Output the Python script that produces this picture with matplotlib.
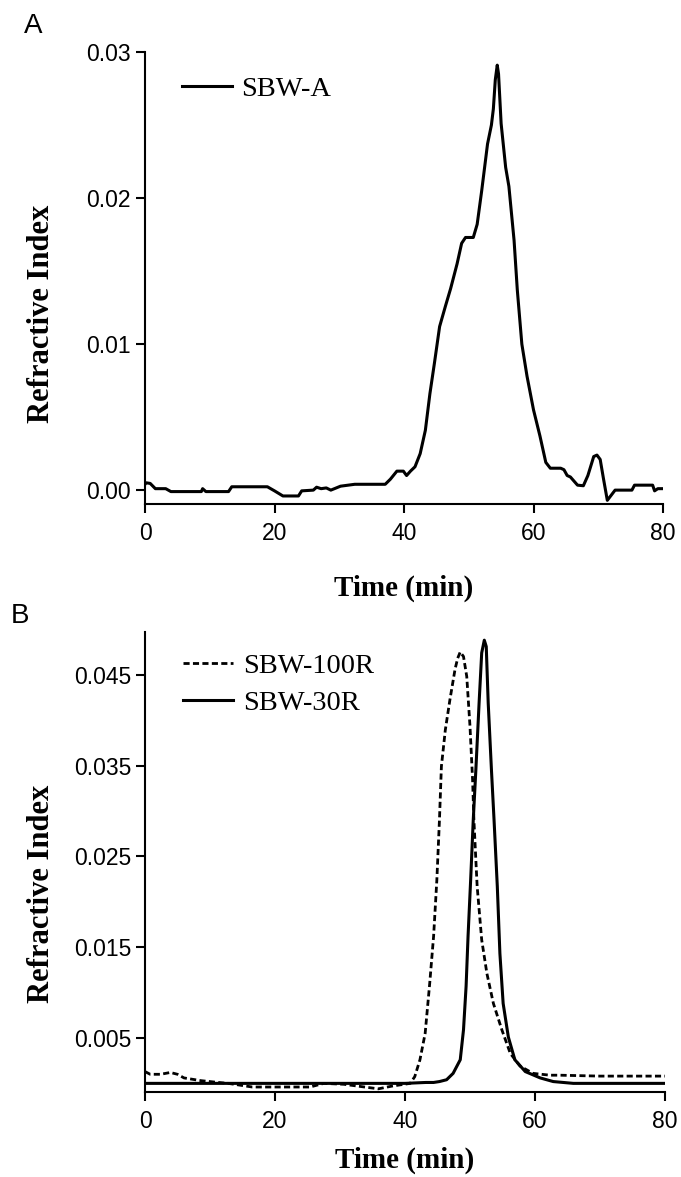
import matplotlib
matplotlib.use("Agg")
import matplotlib.pyplot as plt
import numpy as np

# ---------------- Data ----------------
# Panel A: SBW-A
a_time = [0.0, 0.2, 0.8, 1.6, 3.2, 4.0, 8.7, 8.9, 9.4, 12.9, 13.4, 18.9, 20.0, 21.3, 23.7,
          24.2, 26.0, 26.5, 27.2, 28.0, 28.7, 30.2, 32.4, 37.1, 37.9, 38.9, 39.9, 40.4,
          41.0, 41.7, 42.5, 43.3, 44.0, 44.7, 45.5, 46.4, 47.2, 48.2, 48.9, 49.5, 50.7,
          51.3, 52.0, 52.9, 53.5, 53.8, 54.1, 54.4, 54.6, 55.0, 55.7, 56.2, 57.0, 57.5,
          58.2, 59.0, 60.0, 61.0, 61.9, 62.6, 64.2, 64.7, 65.2, 65.7, 66.8, 67.7, 68.4,
          69.3, 69.8, 70.3, 70.8, 71.4, 72.6, 75.2, 75.6, 78.4, 78.7, 79.2, 80.0]
a_ri = [0.0004, 0.0005, 0.00046, 0.0001, 0.0001, -0.0001, -0.0001, 0.0001, -0.0001, -0.0001,
        0.00023, 0.00023, -0.00005, -0.0004, -0.0004, -0.00005, 0.0, 0.0002, 0.0001, 0.00015,
        0.0, 0.00027, 0.0004, 0.0004, 0.00075, 0.0013, 0.0013, 0.001, 0.0013, 0.0016,
        0.0025, 0.0041, 0.0066, 0.0087, 0.0112, 0.0126, 0.0138, 0.0155, 0.0169, 0.0173,
        0.0173, 0.0182, 0.0205, 0.0237, 0.0250, 0.0261, 0.0281, 0.0291, 0.0285, 0.0251,
        0.0221, 0.0208, 0.0171, 0.0137, 0.0100, 0.0078, 0.0055, 0.0037, 0.0019, 0.0015,
        0.0015, 0.0014, 0.0010, 0.0009, 0.00034, 0.00030, 0.0010, 0.0023, 0.0024, 0.0021,
        0.0008, -0.0007, 0.0, 0.0, 0.00034, 0.00034, -0.00005, 0.0001, 0.0001]

# Panel B: SBW-100R (dashed)
b100_time = [0.0, 0.8, 2.4, 3.9, 5.0, 6.0, 8.6, 11.3, 12.8, 16.5, 25.4, 27.5, 30.6, 32.7,
             35.9, 38.0, 40.8, 41.5, 42.3, 43.1, 43.8, 44.4, 44.9, 45.3, 45.6, 46.2, 46.9,
             47.7, 48.1, 48.5, 49.0, 49.5, 50.0, 50.4, 50.6, 50.9, 51.1, 51.8, 52.6, 53.6,
             54.9, 56.2, 57.7, 59.7, 62.3, 63.8, 70.0, 80.0]
b100_ri = [0.0013, 0.001, 0.001, 0.0012, 0.001, 0.0006, 0.0003, 0.0001, 0.0, -0.0004,
           -0.0004, 0.0, -0.0001, -0.0003, -0.0006, -0.0003, 0.0000, 0.00074, 0.0026,
           0.0055, 0.0110, 0.0162, 0.0224, 0.0290, 0.0349, 0.0389, 0.0422, 0.0456, 0.0468,
           0.0475, 0.0470, 0.0448, 0.0393, 0.0334, 0.0290, 0.0246, 0.0217, 0.0158, 0.0121,
           0.0088, 0.0059, 0.0033, 0.0019, 0.0011, 0.0009, 0.0009, 0.0008, 0.0008]

# Panel B: SBW-30R (solid)
b30_time = [0.0, 40.0, 43.2, 44.4, 45.3, 46.4, 47.4, 48.5, 49.0, 49.4, 49.7, 50.1, 50.5,
            50.9, 51.4, 51.8, 52.2, 52.5, 52.8, 53.3, 53.7, 54.2, 54.6, 55.1, 55.9, 56.9,
            58.5, 60.8, 62.8, 65.9, 80.0]
b30_ri = [0.0, 0.0, 0.0001, 0.0001, 0.0002, 0.0004, 0.0011, 0.0026, 0.0059, 0.0107,
          0.0162, 0.0224, 0.0290, 0.0345, 0.0419, 0.0474, 0.0488, 0.0481, 0.0419, 0.0345,
          0.0290, 0.0217, 0.0143, 0.0088, 0.0051, 0.0026, 0.0013, 0.0006, 0.0002, 0.0,
          0.0]

x_ticks = [0, 20, 40, 60, 80]
a_yticks = [0.00, 0.01, 0.02, 0.03]
a_ytick_labels = ["0.00", "0.01", "0.02", "0.03"]
b_yticks = [0.005, 0.015, 0.025, 0.035, 0.045]
b_ytick_labels = ["0.005", "0.015", "0.025", "0.035", "0.045"]

# ---------------- Figure ----------------
W, H = 681, 1177
fig = plt.figure(figsize=(W / 100, H / 100), dpi=100)

sans = ["Liberation Sans", "DejaVu Sans"]
serif = ["Liberation Serif", "DejaVu Serif"]
TICK_FS = 16.5

def px_axes(l, r, t, b):
    return fig.add_axes([l / W, 1 - b / H, (r - l) / W, (b - t) / H])

axA = px_axes(145, 663, 52, 504)
axB = px_axes(145, 665, 632, 1092)

def style(ax):
    for s in ("top", "right"):
        ax.spines[s].set_visible(False)
    for s in ("left", "bottom"):
        ax.spines[s].set_linewidth(1.5)
    ax.tick_params(direction="out", length=6.5, width=1.5, pad=3.5)
    ax.set_xlim(0, 80)
    ax.set_xticks(x_ticks)
    ax.set_xticklabels([str(v) for v in x_ticks], family=sans, fontsize=TICK_FS)
    ax.tick_params(axis="x", pad=6.5)
    ax.set_xlabel("Time (min)", family=serif, fontweight="bold", fontsize=21)
    ax.xaxis.label.set_va("center")
    ax.set_ylabel("Refractive Index", family=serif, fontweight="bold", fontsize=22)
    ax.yaxis.label.set_va("center")

# Panel A
axA.plot(a_time, a_ri, color="black", lw=2.2, label="SBW-A")
style(axA)
axA.set_ylim(-0.00095, 0.0300)
axA.set_yticks(a_yticks)
axA.set_yticklabels(a_ytick_labels, family=sans, fontsize=TICK_FS)
axA.xaxis.set_label_coords(0.5, -0.186)
axA.yaxis.set_label_coords(-0.199, 0.42)
axA.legend(loc="center left", bbox_to_anchor=(0.071, 0.918), frameon=False,
           borderpad=0, borderaxespad=0, handlelength=1.75, handletextpad=0.35,
           prop={"family": serif, "size": 20.5})

# Panel B
axB.plot(b100_time, b100_ri, color="black", lw=2.0, ls=(0, (2.2, 1.2)), label="SBW-100R")
axB.plot(b30_time, b30_ri, color="black", lw=2.2, label="SBW-30R")
style(axB)
axB.set_ylim(-0.00095, 0.0497)
axB.set_yticks(b_yticks)
axB.set_yticklabels(b_ytick_labels, family=sans, fontsize=TICK_FS)
axB.xaxis.set_label_coords(0.5, -0.148)
axB.yaxis.set_label_coords(-0.199, 0.43)
axB.legend(loc="center left", bbox_to_anchor=(0.073, 0.886), frameon=False,
           borderpad=0, borderaxespad=0, handlelength=1.75, handletextpad=0.35,
           labelspacing=0.4, prop={"family": serif, "size": 20.5})

# Panel letters
fig.text(24 / W, 1 - 26 / H, "A", family=sans, fontsize=20, ha="left", va="center")
fig.text(11 / W, 1 - 616 / H, "B", family=sans, fontsize=20, ha="left", va="center")

fig.savefig("out.png", dpi=100)
